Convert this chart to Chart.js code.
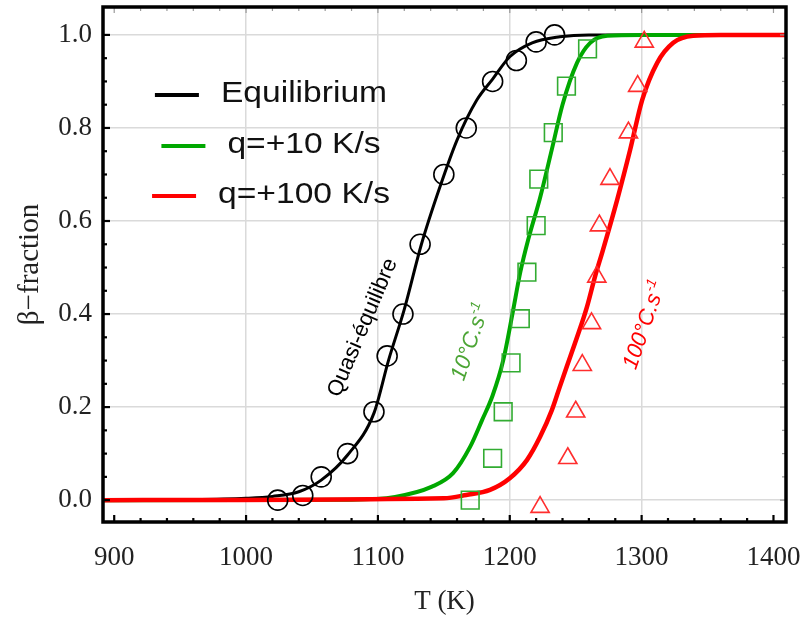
<!DOCTYPE html>
<html lang="en">
<head>
<meta charset="UTF-8">
<title>beta fraction vs T</title>
<script src="https://cdn.jsdelivr.net/npm/chart.js"></script>
<style>
    html, body { margin: 0; padding: 0; background: #fff; }
    #caixa { width: 805px; height: 621px; }
</style>
</head>
<body>
<div id="caixa"><canvas id="grafico_beta" width="805" height="621"></canvas></div>

<script>
    // curvas calculadas
    const tEq = [891.5, 960, 1000, 1020, 1040, 1057, 1077, 1097, 1108, 1120, 1133, 1147, 1160, 1175, 1187, 1200, 1217, 1238, 1260, 1300, 1409.5];
    const betaEq = [0, 0.001, 0.004, 0.008, 0.018, 0.043, 0.097, 0.187, 0.30, 0.41, 0.55, 0.673, 0.774, 0.86, 0.905, 0.953, 0.983, 0.996, 1.0, 1.0, 1.0];

    const tQ10 = [891.5, 1080, 1113, 1141, 1157, 1170, 1179, 1187, 1195, 1202, 1208, 1214, 1223, 1232, 1240, 1251, 1261, 1274, 1300, 1409.5];
    const betaQ10 = [0, 0.001, 0.007, 0.029, 0.058, 0.115, 0.172, 0.225, 0.30, 0.40, 0.49, 0.56, 0.65, 0.755, 0.85, 0.94, 0.983, 0.998, 1.0, 1.0];

    const tQ100 = [891.5, 1150, 1167, 1185, 1200, 1213, 1223, 1232, 1238, 1243, 1251, 1258.5, 1264.6, 1270.7, 1281.4, 1291.3, 1300.4, 1311.8, 1324, 1339, 1360, 1409.5];
    const betaQ100 = [0, 0.004, 0.011, 0.022, 0.047, 0.086, 0.136, 0.194, 0.244, 0.285, 0.35, 0.415, 0.48, 0.538, 0.645, 0.753, 0.86, 0.94, 0.983, 0.998, 1.0, 1.0];

    // pontos experimentais
    const tEqPts = [1024, 1043, 1057, 1077, 1097, 1107, 1119, 1132, 1150, 1167, 1187, 1205, 1220, 1234];
    const betaEqPts = [0.0, 0.01, 0.05, 0.10, 0.19, 0.31, 0.40, 0.55, 0.70, 0.80, 0.90, 0.945, 0.985, 1.0];

    const tQ10Pts = [1170, 1187, 1195, 1201, 1208, 1213, 1220, 1222, 1233, 1243, 1259];
    const betaQ10Pts = [0.0, 0.09, 0.19, 0.295, 0.39, 0.49, 0.59, 0.69, 0.79, 0.89, 0.97];

    const tQ100Pts = [1223, 1244, 1250, 1255, 1262, 1266, 1268, 1276, 1290, 1297, 1302];
    const betaQ100Pts = [-0.015, 0.09, 0.19, 0.29, 0.38, 0.48, 0.59, 0.69, 0.79, 0.89, 0.985];

    const nomesSeries = ['Equilibrium', 'q=+10 K/s', 'q=+100 K/s'];
    const ticksX = [900, 1000, 1100, 1200, 1300, 1400];
    const ticksY = [0.0, 0.2, 0.4, 0.6, 0.8, 1.0];
    const rotulos = ['Quasi-équilibre', '10°C.s', '100°C.s'];

    const PRETO = '#000000';
    const VERDE = '#00a800';
    const VERMELHO = '#ff0000';

    function pares(xs, ys) {
        return xs.map((x, i) => ({x: x, y: ys[i]}));
    }

    function curva(nome, xs, ys, cor, largura, ordem) {
        return {
            label: nome,
            data: pares(xs, ys),
            borderColor: cor,
            borderWidth: largura,
            pointRadius: 0,
            fill: false,
            cubicInterpolationMode: 'monotone',
            order: ordem
        };
    }

    function pontos(xs, ys, cor, estilo, raio) {
        return {
            label: '',
            data: pares(xs, ys),
            showLine: false,
            pointStyle: estilo,
            pointRadius: raio,
            pointBorderColor: cor,
            pointBackgroundColor: 'rgba(0,0,0,0)',
            pointBorderWidth: 1.6,
            order: 0
        };
    }

    // moldura grossa + marcas internas dos eixos
    const moldura = {
        id: 'moldura',
        afterDatasetsDraw(chart) {
            const {ctx, chartArea: a, scales: {x, y}} = chart;
            ctx.save();
            // marcas cinzas em cima e na direita
            ctx.strokeStyle = '#9a9a9a';
            ctx.lineWidth = 1.2;
            for (let t = 900; t <= 1400; t += 20) {
                const px = x.getPixelForValue(t);
                ctx.beginPath(); ctx.moveTo(px, a.top); ctx.lineTo(px, a.top + (t % 100 === 0 ? 6 : 4)); ctx.stroke();
            }
            for (let i = 0; i <= 20; i++) {
                const py = y.getPixelForValue(i * 0.05);
                ctx.beginPath(); ctx.moveTo(a.right, py); ctx.lineTo(a.right - (i % 4 === 0 ? 6 : 4), py); ctx.stroke();
            }
            // marcas pretas embaixo e na esquerda
            ctx.strokeStyle = PRETO;
            ctx.lineWidth = 2.2;
            for (let t = 900; t <= 1400; t += 20) {
                const px = x.getPixelForValue(t);
                ctx.beginPath(); ctx.moveTo(px, a.bottom); ctx.lineTo(px, a.bottom - (t % 100 === 0 ? 7 : 4)); ctx.stroke();
            }
            for (let i = 0; i <= 20; i++) {
                const py = y.getPixelForValue(i * 0.05);
                ctx.beginPath(); ctx.moveTo(a.left, py); ctx.lineTo(a.left + (i % 4 === 0 ? 7 : 4), py); ctx.stroke();
            }
            ctx.lineWidth = 3.5;
            ctx.strokeRect(a.left, a.top, a.right - a.left, a.bottom - a.top);
            ctx.restore();
        }
    };

    function textoGirado(ctx, txt, sup, cx, cy, ang, cor, tam, italico) {
        ctx.save();
        ctx.translate(cx, cy);
        ctx.rotate(ang * Math.PI / 180);
        ctx.fillStyle = cor;
        const f1 = (italico ? 'italic ' : '') + tam + 'px "Liberation Sans", Arial, sans-serif';
        const f2 = (italico ? 'italic ' : '') + Math.round(tam * 0.62) + 'px "Liberation Sans", Arial, sans-serif';
        ctx.font = f1;
        const w1 = ctx.measureText(txt).width;
        ctx.font = f2;
        const w2 = sup ? ctx.measureText(sup).width : 0;
        const x0 = -(w1 + w2) / 2;
        ctx.textBaseline = 'alphabetic';
        ctx.textAlign = 'left';
        ctx.font = f1;
        ctx.fillText(txt, x0, tam * 0.36);
        if (sup) {
            ctx.font = f2;
            ctx.fillText(sup, x0 + w1 + 1, tam * 0.36 - tam * 0.42);
        }
        ctx.restore();
    }

    // legenda dentro do grafico + rotulos das curvas
    const legenda = {
        id: 'legenda',
        afterDraw(chart) {
            const ctx = chart.ctx;
            const cores = [PRETO, VERDE, VERMELHO];
            const bases = [102, 153, 203];
            ctx.save();
            ctx.font = '30px "Liberation Sans", Arial, sans-serif';
            for (let i = 0; i < nomesSeries.length; i++) {
                const w = ctx.measureText(nomesSeries[i]).width * 1.12;
                const esq = 304 - w / 2;
                ctx.save();
                ctx.translate(304, bases[i]);
                ctx.scale(1.12, 1);
                ctx.fillStyle = '#111';
                ctx.textAlign = 'center';
                ctx.fillText(nomesSeries[i], 0, 0);
                ctx.restore();
                ctx.strokeStyle = cores[i];
                ctx.lineWidth = 4;
                ctx.beginPath();
                ctx.moveTo(esq - 66, bases[i] - 7);
                ctx.lineTo(esq - 22, bases[i] - 7);
                ctx.stroke();
            }
            ctx.restore();

            textoGirado(ctx, rotulos[0], '', 361, 327, -67, PRETO, 22, false);
            textoGirado(ctx, rotulos[1], '-1', 469, 342, -71, '#4ca535', 22, true);
            textoGirado(ctx, rotulos[2], '-1', 643, 325, -71, VERMELHO, 22, true);
        }
    };

    const fonteSerif = '"Liberation Serif", "Times New Roman", serif';

    const configGrafico = {
        type: 'line',
        data: {
            datasets: [
                curva(nomesSeries[0], tEq, betaEq, PRETO, 3, 3),
                curva(nomesSeries[1], tQ10, betaQ10, VERDE, 4, 2),
                curva(nomesSeries[2], tQ100, betaQ100, VERMELHO, 4.5, 1),
                pontos(tEqPts, betaEqPts, PRETO, 'circle', 10),
                pontos(tQ10Pts, betaQ10Pts, 'rgb(50,172,50)', 'rect', 12.5),
                pontos(tQ100Pts, betaQ100Pts, 'rgb(255,45,45)', 'triangle', 10.5)
            ]
        },
        options: {
            responsive: false,
            animation: false,
            events: [],
            layout: {autoPadding: false, padding: {top: 7, right: 19, left: 0, bottom: 0}},
            plugins: {
                legend: {display: false},
                tooltip: {enabled: false}
            },
            scales: {
                x: {
                    type: 'linear',
                    min: 891.5,
                    max: 1409.5,
                    afterBuildTicks: s => { s.ticks = ticksX.map(v => ({value: v})); },
                    afterFit: s => { s.height = 99; s.paddingLeft = 0; s.paddingRight = 0; },
                    border: {display: false},
                    grid: {
                        drawTicks: false,
                        lineWidth: 1.5,
                        color: c => (c.tick && (c.tick.value === 900 || c.tick.value === 1400)) ? 'rgba(0,0,0,0)' : '#dadada'
                    },
                    ticks: {
                        color: '#222',
                        padding: 20,
                        maxRotation: 0,
                        font: {family: fonteSerif, size: 27},
                        callback: v => String(v)
                    },
                    title: {
                        display: true,
                        text: 'T (K)',
                        color: '#222',
                        font: {family: fonteSerif, size: 27},
                        padding: {top: 0, bottom: 3}
                    }
                },
                y: {
                    type: 'linear',
                    min: -0.047,
                    max: 1.06,
                    afterBuildTicks: s => { s.ticks = ticksY.map(v => ({value: v})); },
                    afterFit: s => { s.width = 103; s.paddingTop = 0; s.paddingBottom = 0; },
                    border: {display: false},
                    grid: {drawTicks: false, lineWidth: 1.5, color: '#dadada'},
                    ticks: {
                        color: '#222',
                        padding: 11,
                        font: {family: fonteSerif, size: 27},
                        callback: v => Number(v).toFixed(1)
                    },
                    title: {
                        display: true,
                        text: 'β−fraction',
                        color: '#222',
                        font: {family: fonteSerif, size: 29},
                        padding: {top: 13, bottom: 0}
                    }
                }
            }
        },
        plugins: [moldura, legenda]
    };

    var graficoBeta = new Chart(document.getElementById('grafico_beta'), configGrafico);
</script>
</body>
</html>
